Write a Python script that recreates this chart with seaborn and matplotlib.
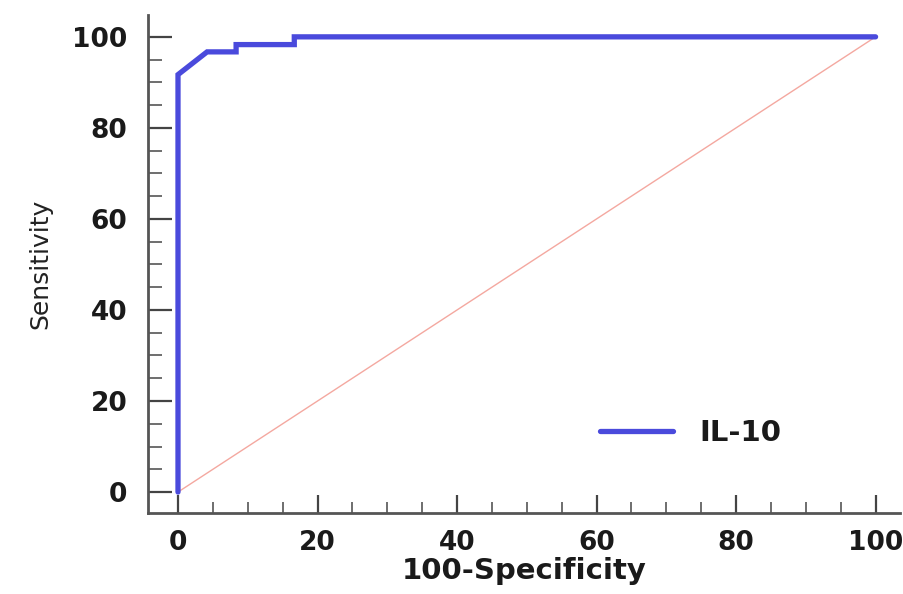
import matplotlib
matplotlib.use("Agg")
import matplotlib.pyplot as plt
import seaborn as sns
import pandas as pd
from matplotlib.ticker import MultipleLocator

# ROC data (100-Specificity, Sensitivity)
fpr = [0, 0, 4.17, 8.33, 8.33, 16.67, 16.67, 100]
tpr = [0, 91.7, 96.7, 96.7, 98.3, 98.3, 100, 100]
ref_x = [0, 100]
ref_y = [0, 100]
series_name = "IL-10"
x_ticks = [0, 20, 40, 60, 80, 100]
y_ticks = [0, 20, 40, 60, 80, 100]

sns.set_theme(style="white")
plt.rcParams['font.family'] = ['DejaVu Sans']

fig = plt.figure(figsize=(9.04, 5.94), dpi=100)
ax = fig.add_axes([148/904, (594-513)/594, (900-148)/904, (513-15)/594])

ref = pd.DataFrame({"x": ref_x, "y": ref_y})
sns.lineplot(data=ref, x="x", y="y", ax=ax, color="#f4a8a0", lw=1.0, sort=False, estimator=None)

roc = pd.DataFrame({"x": fpr, "y": tpr, "s": series_name})
sns.lineplot(data=roc, x="x", y="y", ax=ax, color="#4a4adc", lw=3.8, sort=False,
             estimator=None, label=series_name, solid_joinstyle="miter")

ax.set_xlim(-4.3, 103.5)
ax.set_ylim(-4.6, 104.8)
ax.set_xticks(x_ticks)
ax.set_yticks(y_ticks)
ax.xaxis.set_minor_locator(MultipleLocator(5))
ax.yaxis.set_minor_locator(MultipleLocator(5))

for s in ["top", "right"]:
    ax.spines[s].set_visible(False)
for s in ["left", "bottom"]:
    ax.spines[s].set_color("#555555")
    ax.spines[s].set_linewidth(2.0)

ax.tick_params(axis="y", which="major", direction="in", length=17, width=1.6, color="#444444", pad=15, left=True)
ax.tick_params(axis="y", which="minor", direction="in", length=10, width=1.2, color="#555555", left=True)
ax.tick_params(axis="x", which="major", direction="in", length=13, width=1.6, color="#444444", pad=12, bottom=True)
ax.tick_params(axis="x", which="minor", direction="in", length=8, width=1.2, color="#555555", bottom=True)
for lab in ax.get_xticklabels() + ax.get_yticklabels():
    lab.set_fontsize(19)
    lab.set_fontweight("bold")
    lab.set_color("#1a1a1a")

ax.set_xlabel("100-Specificity", fontsize=21, fontweight="bold", color="#1a1a1a", labelpad=1)
ax.set_ylabel("Sensitivity", fontsize=18, color="#222222", labelpad=14)

leg = ax.legend(loc="center left", bbox_to_anchor=((600-148)/752, (513-433)/498), frameon=False,
                prop={"weight": "bold", "size": 21}, handlelength=2.5, handletextpad=0.9,
                borderaxespad=0, borderpad=0)
for t in leg.get_texts():
    t.set_color("#1a1a1a")

fig.savefig("out.png", dpi=100)
